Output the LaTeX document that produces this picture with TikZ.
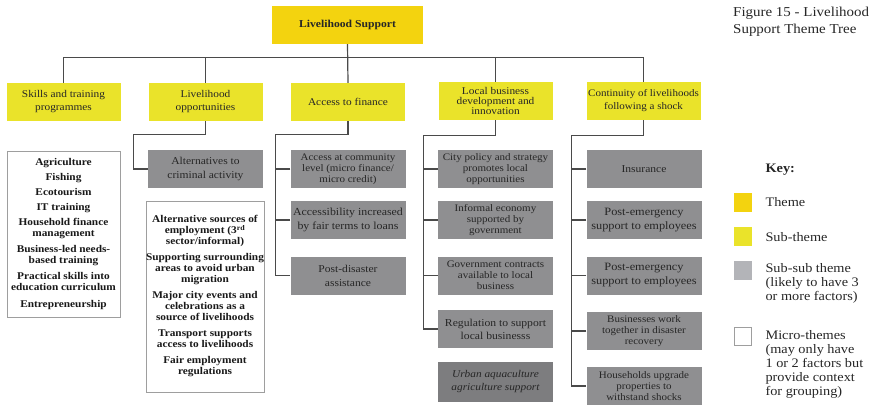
\documentclass[tikz,border=0pt]{standalone}
\usepackage{fontspec}
\setmainfont{Liberation Serif}[FakeStretch=1.1]
\definecolor{themegold}{HTML}{F3D30F}
\definecolor{subyellow}{HTML}{EAE32A}
\definecolor{boxgray}{HTML}{8F8F91}
\definecolor{boxdark}{HTML}{7D7D7F}
\definecolor{keygray}{HTML}{B3B4B8}
\definecolor{textgray}{HTML}{262626}
\definecolor{linegray}{HTML}{4A4A4A}
\definecolor{microedge}{HTML}{9E9E9E}
\begin{document}
\begin{tikzpicture}[x=1pt,y=-1pt,
  theme/.style={fill=themegold, inner sep=0pt, minimum width=151pt, minimum height=38pt,
    font=\bfseries\fontsize{10.6}{12}\selectfont, text=black!85},
  subtheme/.style={fill=subyellow, inner sep=0pt, minimum width=114pt, minimum height=38pt,
    align=center, font=\fontsize{10.3}{13}\selectfont, text=textgray},
  subsub/.style={fill=boxgray, inner sep=0pt, minimum width=115pt, minimum height=38pt,
    align=center, font=\fontsize{10.5}{14}\selectfont, text=textgray},
  tight/.style={font=\fontsize{10}{10.8}\selectfont},
  micro/.style={draw=microedge, fill=white, line width=0.8pt, inner sep=0pt, align=center,
    font=\bfseries\fontsize{10.3}{11}\selectfont, text=black!90},
  conn/.style={draw=linegray, line width=1.2pt},
  swatch/.style={inner sep=0pt, minimum width=18pt, minimum height=19pt},
  keytext/.style={anchor=west, align=left, font=\fontsize{13}{14}\selectfont, text=textgray}
]
\useasboundingbox (0,0) rectangle (877,415);

% root theme
\node[theme] (root) at (347.5,25) {Livelihood Support};

% sub-themes
\node[subtheme] (skills) at (63.5,102)  {Skills and training\\programmes};
\node[subtheme] (lopp)   at (205.5,102) {Livelihood\\opportunities};
\node[subtheme] (fin)    at (348,102)   {Access to finance};
\node[subtheme, font=\fontsize{10.3}{10.3}\selectfont] (local) at (495.5,101) {Local business\\development and\\innovation};
\node[subtheme, font=\fontsize{10}{13}\selectfont] (cont) at (643.5,101) {Continuity of livelihoods\\following a shock};

% tree trunk and bus
\draw[conn] (root.south) -- (fin.north);
\draw[conn] (skills.north) -- ++(0,-25) -| (cont.north);
\draw[conn] (lopp.north) -- ++(0,-25);
\draw[conn] (local.north) -- ++(0,-24);

% livelihood opportunities
\node[subsub] (alt) at (205.5,169) {Alternatives to\\criminal activity};
\draw[conn] (lopp.south) -- ++(0,13) -| ([xshift=-14pt]alt.west) -- (alt.west);

% access to finance
\node[subsub, tight] (fa1) at (348,169)   {Access at community\\level (micro finance/\\micro credit)};
\node[subsub, font=\fontsize{10.8}{14}\selectfont] (fa2) at (348,220) {Accessibility increased\\by fair terms to loans};
\node[subsub]        (fa3) at (348,275.5) {Post-disaster\\assistance};
\draw[conn] (fin.south) -- ++(0,13) -| ([xshift=-15pt]fa3.west) -- (fa3.west);
\draw[conn] (fa1.west) -- ++(-15,0);
\draw[conn] (fa2.west) -- ++(-15,0);

% local business development
\node[subsub, tight] (lb1) at (495.5,169)   {City policy and strategy\\promotes local\\opportunities};
\node[subsub, tight] (lb2) at (495.5,220)   {Informal economy\\supported by\\government};
\node[subsub, tight] (lb3) at (495.5,275.5) {Government contracts\\available to local\\business};
\node[subsub, font=\fontsize{10.6}{13}\selectfont] (lb4) at (495.5,329) {Regulation to support\\local businesss};
\node[subsub, fill=boxdark, minimum height=40pt, font=\itshape\fontsize{10.3}{13}\selectfont] (lb5) at (495.5,382) {Urban aquaculture\\agriculture support};
\draw[conn] (local.south) -- ++(0,15) -| ([xshift=-14pt]lb4.west) -- (lb4.west);
\draw[conn] (lb1.west) -- ++(-14,0);
\draw[conn] (lb2.west) -- ++(-14,0);
\draw[conn] (lb3.west) -- ++(-14,0);

% continuity of livelihoods
\node[subsub] (cs1) at (644,169)   {Insurance};
\node[subsub, font=\fontsize{11.2}{14}\selectfont] (cs2) at (644,220)   {Post-emergency\\support to employees};
\node[subsub, font=\fontsize{11.2}{14}\selectfont] (cs3) at (644,275.5) {Post-emergency\\support to employees};
\node[subsub, tight] (cs4) at (644,331) {Businesses work\\together in disaster\\recovery};
\node[subsub, tight] (cs5) at (644,386) {Households upgrade\\properties to\\withstand shocks};
\draw[conn] (cont.south) -- ++(0,15) -| ([xshift=-15pt]cs5.west) -- (cs5.west);
\draw[conn] (cs1.west) -- ++(-15,0);
\draw[conn] (cs2.west) -- ++(-15,0);
\draw[conn] (cs3.west) -- ++(-15,0);
\draw[conn] (cs4.west) -- ++(-15,0);

% micro-themes
\node[micro, minimum width=113pt, minimum height=166pt] (mskills) at (63.5,234)
  {Agriculture\\[4pt] Fishing\\[4pt] Ecotourism\\[4pt] IT training\\[4pt]
   Household finance\\management\\[5pt] Business-led needs-\\based training\\[5pt]
   Practical skills into\\education curriculum\\[6pt] Entrepreneurship};
\node[micro, minimum width=114pt, minimum height=191pt] (mlopp) at (205,296.5)
  {Alternative sources of\\employment (3\textsuperscript{rd}\\sector/informal)\\[5pt]
   Supporting surrounding\\areas to avoid urban\\migration\\[5pt]
   Major city events and\\celebrations as a\\source of livelihoods\\[5pt]
   Transport supports\\access to livelihoods\\[5pt]
   Fair employment\\regulations};

% caption
\node[anchor=west, align=left, inner sep=0pt, font=\fontsize{13.6}{16.5}\selectfont, text=textgray] (caption) at (733,21.5)
  {Figure 15 - Livelihood\\Support Theme Tree};

% key
\node[keytext, font=\bfseries\fontsize{13}{14}\selectfont] (keyhead) at (762,170) {Key:};
\node[swatch, fill=themegold] (kthemebox) at (743,202) {};
\node[keytext] (ktheme) at (762,202) {Theme};
\node[swatch, fill=subyellow] (ksubbox) at (743,236.5) {};
\node[keytext] (ksub) at (762,237) {Sub-theme};
\node[swatch, fill=keygray] (ksubsubbox) at (743,270.5) {};
\node[keytext] (ksubsub) at (762,283) {Sub-sub theme\\(likely to have 3\\or more factors)};
\node[swatch, draw=microedge, line width=0.8pt, fill=white, minimum height=18pt, minimum width=17pt] (kmicrobox) at (743,336) {};
\node[keytext] (kmicro) at (762,364) {Micro-themes\\(may only have\\1 or 2 factors but\\provide context\\for grouping)};
\end{tikzpicture}
\end{document}
